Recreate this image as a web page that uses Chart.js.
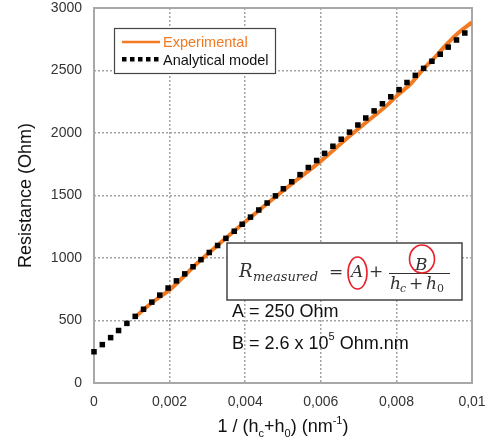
<!DOCTYPE html>
<html>
<head>
<meta charset="utf-8">
<script src="https://cdn.jsdelivr.net/npm/chart.js@4.4.1/dist/chart.umd.min.js"></script>
<style>
  html, body { margin: 0; padding: 0; background: #fff; }
  canvas { display: block; }
</style>
</head>
<body>
<canvas id="resistanceChart" width="491" height="446"></canvas>
<script>
// Analytical model (black squares)
const modelX = [0, 0.00022, 0.00044, 0.00065, 0.00087, 0.00109, 0.00131, 0.00153, 0.00174, 0.00196,
  0.00218, 0.0024, 0.00262, 0.00283, 0.00305, 0.00327, 0.00349, 0.00371, 0.00392, 0.00414,
  0.00436, 0.00458, 0.0048, 0.00501, 0.00523, 0.00545, 0.00567, 0.00589, 0.0061, 0.00632,
  0.00654, 0.00676, 0.00698, 0.00719, 0.00741, 0.00763, 0.00785, 0.00807, 0.00828, 0.0085,
  0.00872, 0.00894, 0.00916, 0.00937, 0.00959, 0.00981];
const modelY = [250, 307, 363, 420, 477, 533, 590, 647, 703, 760,
  817, 873, 930, 987, 1044, 1100, 1157, 1214, 1270, 1327,
  1384, 1440, 1497, 1554, 1610, 1667, 1724, 1780, 1837, 1894,
  1950, 2007, 2064, 2120, 2177, 2234, 2290, 2347, 2404, 2461,
  2517, 2574, 2630, 2687, 2744, 2800];

// Experimental curve (orange)
const expX = [0.0011, 0.0014, 0.0017, 0.002, 0.0023, 0.0027, 0.0033, 0.004, 0.0046, 0.0053,
  0.006, 0.0067, 0.0073, 0.0078, 0.008, 0.0084, 0.00868, 0.009, 0.0093, 0.0096, 0.01];
const expY = [530, 610, 680, 745, 830, 950, 1110, 1290, 1440, 1610,
  1775, 1960, 2110, 2235, 2295, 2400, 2500, 2600, 2700, 2790, 2885];

const xTickLabels = ['0', '0,002', '0,004', '0,006', '0,008', '0,01'];
const yTickLabels = ['0', '500', '1000', '1500', '2000', '2500', '3000'];

const EXP_COLOR = '#f27a22';
const SANS = '"Liberation Sans", Arial, sans-serif';
const SERIF = '"DejaVu Serif", "Liberation Serif", serif';

// hide grid lines on the frame edges, the frame is drawn separately
function gridColor(ctx) {
    const s = ctx.scale;
    const t = ctx.tick;
    if (!t) return '#a3a3a3';
    const eps = (s.max - s.min) * 1e-6;
    if (Math.abs(t.value - s.min) < eps || Math.abs(t.value - s.max) < eps) return 'rgba(0,0,0,0)';
    return '#a3a3a3';
}

const overlay = {
    id: 'overlay',
    beforeDatasetsDraw(chart) {
        const { ctx, chartArea: a } = chart;
        ctx.save();
        ctx.strokeStyle = '#a8a8a8';
        ctx.lineWidth = 2;
        ctx.strokeRect(a.left, a.top, a.right - a.left, a.bottom - a.top);
        ctx.restore();
    },
    afterDraw(chart) {
        const { ctx, chartArea: a } = chart;
        ctx.save();

        // legend box
        ctx.fillStyle = '#fff';
        ctx.fillRect(114, 28, 161, 45);
        ctx.strokeStyle = '#444';
        ctx.lineWidth = 1.2;
        ctx.strokeRect(114.5, 28.5, 161, 45);
        ctx.strokeStyle = EXP_COLOR;
        ctx.lineWidth = 2.5;
        ctx.beginPath();
        ctx.moveTo(122, 42);
        ctx.lineTo(160, 42);
        ctx.stroke();
        ctx.fillStyle = '#000';
        for (let k = 0; k < 5; k++) ctx.fillRect(122 + k * 8, 57, 4.5, 4.5);
        ctx.font = '14.5px ' + SANS;
        ctx.textBaseline = 'alphabetic';
        ctx.textAlign = 'left';
        ctx.fillStyle = EXP_COLOR;
        ctx.fillText('Experimental', 163, 47);
        ctx.fillStyle = '#111';
        ctx.fillText('Analytical model', 163, 65);

        // equation box
        ctx.fillStyle = '#fff';
        ctx.fillRect(227, 243, 235, 57);
        ctx.strokeStyle = '#444';
        ctx.lineWidth = 1.5;
        ctx.strokeRect(227, 243, 235, 57);
        ctx.fillStyle = '#333';
        ctx.font = 'italic 18px ' + SERIF;
        ctx.fillText('R', 239, 277);
        ctx.font = 'italic 13px ' + SERIF;
        ctx.fillText('measured', 253, 281);
        ctx.font = '17px ' + SERIF;
        ctx.fillText('=', 329, 277);
        ctx.font = 'italic 17px ' + SERIF;
        ctx.fillText('A', 351, 277);
        ctx.font = '17px ' + SERIF;
        ctx.fillText('+', 369, 277);
        ctx.strokeStyle = '#333';
        ctx.lineWidth = 1;
        ctx.beginPath();
        ctx.moveTo(389, 273.5);
        ctx.lineTo(450, 273.5);
        ctx.stroke();
        ctx.font = 'italic 17px ' + SERIF;
        ctx.fillText('B', 415, 270);
        ctx.fillText('h', 390, 289);
        ctx.fillText('h', 426, 289);
        ctx.font = '17px ' + SERIF;
        ctx.fillText('+', 409, 289);
        ctx.font = 'italic 11px ' + SERIF;
        ctx.fillText('c', 400, 292);
        ctx.font = '11px ' + SERIF;
        ctx.fillText('0', 437, 292);
        ctx.strokeStyle = '#e8202a';
        ctx.lineWidth = 1.6;
        ctx.beginPath();
        ctx.ellipse(357.5, 273, 9.5, 16, 0, 0, Math.PI * 2);
        ctx.stroke();
        ctx.beginPath();
        ctx.ellipse(422, 259, 12.5, 14, 0, 0, Math.PI * 2);
        ctx.stroke();

        // fitted values
        ctx.fillStyle = '#111';
        ctx.font = '18px ' + SANS;
        ctx.fillText('A = 250 Ohm', 232, 317);
        ctx.fillText('B = 2.6 x 10', 232, 349);
        let w = ctx.measureText('B = 2.6 x 10').width;
        ctx.font = '11px ' + SANS;
        ctx.fillText('5', 232 + w, 340);
        let w2 = ctx.measureText('5').width;
        ctx.font = '18px ' + SANS;
        ctx.fillText(' Ohm.nm', 232 + w + w2, 349);

        // x axis title with sub/superscripts
        const parts = [
            ['1 / (h', 18, 0], ['c', 11, 5], ['+h', 18, 0], ['0', 11, 5],
            [') (nm', 18, 0], ['-1', 11, -8], [')', 18, 0]
        ];
        let total = 0;
        for (const p of parts) { ctx.font = p[1] + 'px ' + SANS; total += ctx.measureText(p[0]).width; }
        let x = (a.left + a.right) / 2 - total / 2;
        ctx.fillStyle = '#111';
        for (const p of parts) {
            ctx.font = p[1] + 'px ' + SANS;
            ctx.fillText(p[0], x, 432 + p[2]);
            x += ctx.measureText(p[0]).width;
        }
        ctx.restore();
    }
};

new Chart(document.getElementById('resistanceChart'), {
    type: 'scatter',
    data: {
        datasets: [{
            label: 'Analytical model',
            data: modelX.map((v, i) => ({ x: v, y: modelY[i] })),
            showLine: false,
            pointStyle: 'rect',
            pointRadius: 3.9,
            pointBackgroundColor: '#000',
            pointBorderWidth: 0,
            clip: false,
            order: 0
        }, {
            label: 'Experimental',
            data: expX.map((v, i) => ({ x: v, y: expY[i] })),
            showLine: true,
            borderColor: EXP_COLOR,
            borderWidth: 4,
            pointRadius: 0,
            cubicInterpolationMode: 'monotone',
            order: 1
        }]
    },
    options: {
        responsive: false,
        animation: false,
        devicePixelRatio: 1,
        layout: { padding: { left: 0, right: 19, top: 8, bottom: 0 } },
        plugins: { legend: { display: false }, tooltip: { enabled: false } },
        scales: {
            x: {
                type: 'linear',
                min: 0, max: 0.01,
                afterFit: s => { s.height = 63; s.paddingLeft = 0; s.paddingRight = 0; },
                ticks: {
                    stepSize: 0.002,
                    maxRotation: 0,
                    autoSkip: false,
                    padding: 11,
                    color: '#333',
                    font: { family: SANS, size: 14 },
                    callback: (v, i) => xTickLabels[i]
                },
                grid: { color: gridColor, lineWidth: 1.5, drawTicks: false },
                border: { display: false, dash: [2, 2] }
            },
            y: {
                min: 0, max: 3000,
                afterFit: s => { s.width = 94; s.paddingTop = 0; s.paddingBottom = 0; },
                ticks: {
                    stepSize: 500,
                    padding: 12,
                    color: '#333',
                    font: { family: SANS, size: 14 },
                    callback: (v, i) => yTickLabels[i]
                },
                grid: { color: gridColor, lineWidth: 1.5, drawTicks: false },
                border: { display: false, dash: [2, 2] },
                title: {
                    display: true,
                    text: 'Resistance (Ohm)',
                    color: '#111',
                    font: { family: SANS, size: 18 },
                    padding: { top: 15, bottom: 0 }
                }
            }
        }
    },
    plugins: [overlay]
});
</script>
</body>
</html>
